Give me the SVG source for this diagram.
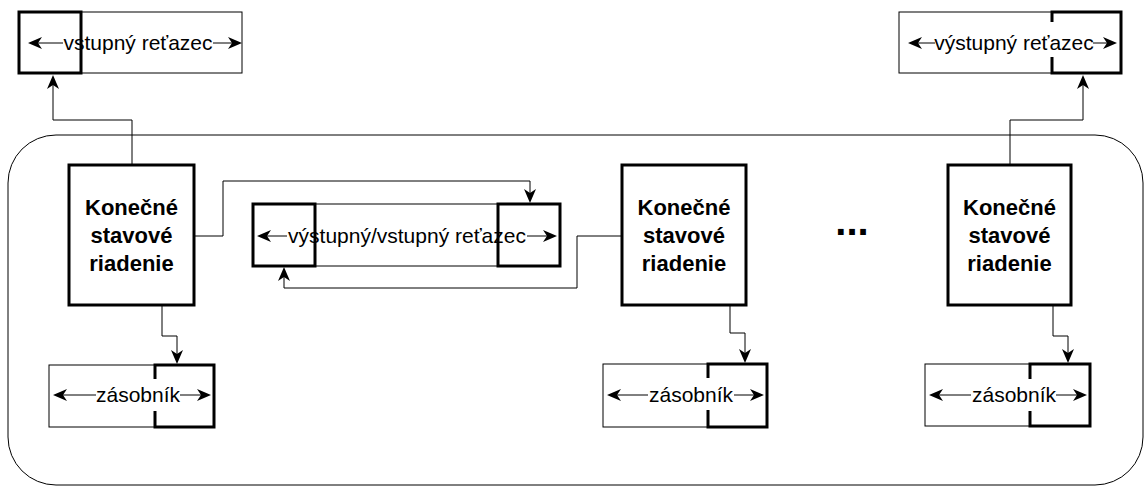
<svg xmlns="http://www.w3.org/2000/svg" width="1146" height="489" viewBox="0 0 1146 489">
<style>
.thin{fill:none;stroke:#000;stroke-width:1}
.thick{fill:none;stroke:#000;stroke-width:3}
.fsm{fill:#fff;stroke:#000;stroke-width:3}
.lbl{font-family:"Liberation Sans",Arial,sans-serif;font-size:21px;fill:#000;text-anchor:middle}
.bold{font-family:"Liberation Sans",Arial,sans-serif;font-size:22px;font-weight:bold;fill:#000;text-anchor:middle}
.arr{fill:none;stroke:#000;stroke-width:1}
.head{fill:#000;stroke:none}
</style>
<defs>
<path id="hd" d="M0,0 L-14,-6 L-10,0 L-14,6 z"/>
</defs>
<rect x="8" y="135" width="1135" height="350" rx="48" ry="48" class="thin"/>

<g id="input-tape">
<rect x="19" y="12" width="223" height="61" class="thin"/>
<rect x="19" y="12" width="62" height="61" class="thick"/>
<line x1="63" y1="43" x2="32" y2="43" class="arr"/>
<line x1="213" y1="43" x2="238" y2="43" class="arr"/>
<use href="#hd" class="head" transform="translate(28,43) rotate(180)"/>
<use href="#hd" class="head" transform="translate(242,43)"/>
<text x="138" y="50" class="lbl">vstupný reťazec</text>
</g>

<g id="output-tape">
<rect x="899" y="12" width="222" height="61" class="thin"/>
<path d="M1052,22 V12 H1121 V73 H1052 V57" class="thick"/>
<line x1="935" y1="43" x2="912" y2="43" class="arr"/>
<line x1="1093" y1="43" x2="1113" y2="43" class="arr"/>
<use href="#hd" class="head" transform="translate(908,43) rotate(180)"/>
<use href="#hd" class="head" transform="translate(1117,43)"/>
<text x="1014" y="50" class="lbl">výstupný reťazec</text>
</g>

<g id="middle-tape">
<rect x="253" y="204" width="307" height="62" class="thin"/>
<rect x="253" y="204" width="62" height="62" class="thick"/>
<rect x="498" y="204" width="62" height="62" class="thick"/>
<line x1="287" y1="236" x2="261" y2="236" class="arr"/>
<line x1="527" y1="236" x2="553" y2="236" class="arr"/>
<use href="#hd" class="head" transform="translate(257,236) rotate(180)"/>
<use href="#hd" class="head" transform="translate(557,236)"/>
<text x="407" y="243" class="lbl">výstupný/vstupný reťazec</text>
</g>

<g id="fsm1">
<rect x="69" y="165" width="125" height="140" class="fsm"/>
<text x="131.5" y="215" class="bold">Konečné</text>
<text x="131.5" y="243" class="bold">stavové</text>
<text x="131.5" y="271" class="bold">riadenie</text>
</g>

<g id="fsm2">
<rect x="622" y="165" width="124" height="140" class="fsm"/>
<text x="684" y="215" class="bold">Konečné</text>
<text x="684" y="243" class="bold">stavové</text>
<text x="684" y="271" class="bold">riadenie</text>
</g>

<g id="fsm3">
<rect x="948" y="165" width="123" height="140" class="fsm"/>
<text x="1009.5" y="215" class="bold">Konečné</text>
<text x="1009.5" y="243" class="bold">stavové</text>
<text x="1009.5" y="271" class="bold">riadenie</text>
</g>

<g id="ellipsis">
<text x="852" y="235" font-family="Liberation Sans, Arial, sans-serif" font-size="40" font-weight="bold" text-anchor="middle">...</text>
</g>

<g id="stack1">
<rect x="49" y="365" width="165" height="62" class="thin"/>
<path d="M155,379 V365 H214 V427 H155 V411" class="thick"/>
<line x1="96" y1="395" x2="57" y2="395" class="arr"/>
<line x1="180" y1="395" x2="207" y2="395" class="arr"/>
<use href="#hd" class="head" transform="translate(53,395) rotate(180)"/>
<use href="#hd" class="head" transform="translate(211,395)"/>
<text x="138" y="402" class="lbl">zásobník</text>
</g>

<g id="stack2">
<rect x="603" y="364" width="164" height="63" class="thin"/>
<path d="M708,378 V364 H767 V427 H708 V410" class="thick"/>
<line x1="648" y1="395" x2="611" y2="395" class="arr"/>
<line x1="734" y1="395" x2="760" y2="395" class="arr"/>
<use href="#hd" class="head" transform="translate(607,395) rotate(180)"/>
<use href="#hd" class="head" transform="translate(764,395)"/>
<text x="691" y="402" class="lbl">zásobník</text>
</g>

<g id="stack3">
<rect x="925" y="364" width="165" height="62" class="thin"/>
<path d="M1030,379 V364 H1090 V426 H1030 V411" class="thick"/>
<line x1="971" y1="395" x2="933" y2="395" class="arr"/>
<line x1="1056" y1="395" x2="1083" y2="395" class="arr"/>
<use href="#hd" class="head" transform="translate(929,395) rotate(180)"/>
<use href="#hd" class="head" transform="translate(1087,395)"/>
<text x="1014" y="402" class="lbl">zásobník</text>
</g>

<g id="connectors">
<path d="M132,165 V120 H53 V79" class="arr"/>
<use href="#hd" class="head" transform="translate(53,75) rotate(-90)"/>
<path d="M1010,165 V120 H1083 V79" class="arr"/>
<use href="#hd" class="head" transform="translate(1083,75) rotate(-90)"/>
<path d="M194,236 H223 V181 H530 V199" class="arr"/>
<use href="#hd" class="head" transform="translate(530,203) rotate(90)"/>
<path d="M622,236 H577 V288 H284 V271" class="arr"/>
<use href="#hd" class="head" transform="translate(284,267) rotate(-90)"/>
<path d="M162,305 V336 H177 V360" class="arr"/>
<use href="#hd" class="head" transform="translate(177,364) rotate(90)"/>
<path d="M730,305 V333 H745 V359" class="arr"/>
<use href="#hd" class="head" transform="translate(745,363) rotate(90)"/>
<path d="M1053,305 V336 H1068 V359" class="arr"/>
<use href="#hd" class="head" transform="translate(1068,363) rotate(90)"/>
</g>
</svg>
